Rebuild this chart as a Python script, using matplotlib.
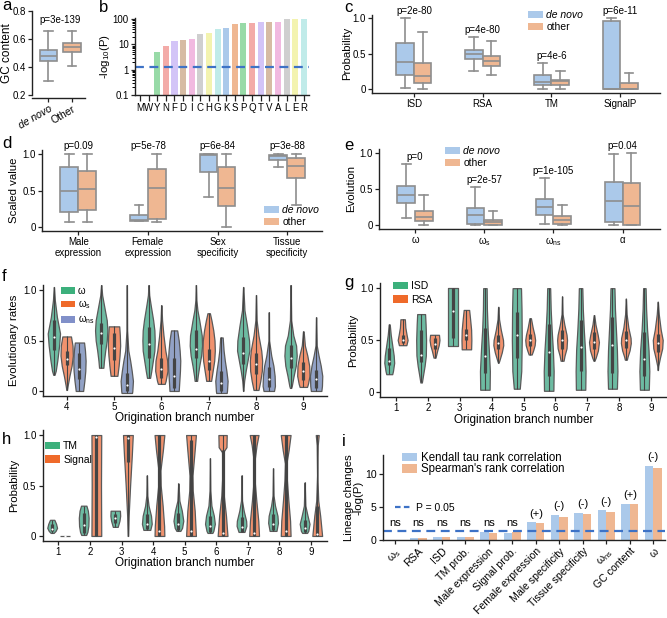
import colorsys
import numpy as np
import matplotlib
matplotlib.use('Agg')
import matplotlib.pyplot as plt
import matplotlib.colors as mcolors
from matplotlib.patches import Patch
from matplotlib.lines import Line2D

plt.rcParams['font.family'] = ['Liberation Sans', 'DejaVu Sans']
plt.rcParams['mathtext.default'] = 'regular'

# ---------------- data ----------------
# box stats are (whislo, q1, med, q3, whishi)
a_groups = ['de novo', 'Other']
a_gc = [(0.30, 0.44, 0.48, 0.525, 0.66), (0.41, 0.51, 0.54, 0.57, 0.66)]
a_p = 'p=3e-139'

b_aa = list('MWYNFDICHGKSPQTVALER')
b_logp = [0, 0, 5, 9, 14, 15, 16, 26, 29, 42, 46, 65, 68, 68, 78, 80, 80, 98, 98, 98]
b_cut = 1.3

c_feat = ['ISD', 'RSA', 'TM', 'SignalP']
c_denovo = [(0.01, 0.19, 0.38, 0.65, 1.0), (0.26, 0.42, 0.49, 0.55, 0.73),
            (0.0, 0.05, 0.10, 0.19, 0.36), (0.0, 0.0, 0.0, 0.96, 1.0)]
c_other = [(0.0, 0.08, 0.18, 0.37, 0.80), (0.20, 0.33, 0.40, 0.47, 0.67),
           (0.0, 0.05, 0.11, 0.13, 0.25), (0.0, 0.0, 0.0, 0.09, 0.23)]
c_p = ['p=2e-80', 'p=4e-80', 'p=4e-6', 'p=6e-11']

d_feat = ['Male\nexpression', 'Female\nexpression', 'Sex\nspecificity', 'Tissue\nspecificity']
d_denovo = [(0.07, 0.20, 0.50, 0.82, 1.0), (0.08, 0.08, 0.09, 0.16, 0.30),
            (0.41, 0.75, 0.99, 1.0, 1.0), (0.82, 0.92, 0.98, 0.99, 1.0)]
d_other = [(0.07, 0.24, 0.52, 0.77, 1.0), (0.07, 0.115, 0.53, 0.80, 1.0),
           (0.0, 0.29, 0.54, 0.82, 1.0), (0.30, 0.67, 0.84, 0.94, 1.0)]
d_p = ['p=0.09', 'p=5e-78', 'p=6e-84', 'p=3e-88']

e_feat = ['ω', 'ω$_{s}$', 'ω$_{ns}$', 'α']
e_denovo = [(0.10, 0.31, 0.42, 0.54, 0.85), (0.0, 0.01, 0.14, 0.23, 0.53),
            (0.01, 0.14, 0.25, 0.36, 0.65), (0.0, 0.04, 0.33, 0.60, 0.99)]
e_other = [(0.0, 0.06, 0.11, 0.20, 0.42), (0.0, 0.0, 0.04, 0.07, 0.19),
           (0.0, 0.02, 0.07, 0.13, 0.28), (0.0, 0.0, 0.26, 0.58, 1.0)]
e_p = ['p=0', 'p=2e-57', 'p=1e-105', 'p=0.04']

# violin shapes: list of (value, relative width) knots; boxes are (q1, median, q3)
f_branch = [4, 5, 6, 7, 8, 9]
f_omega = [
    [(1.03, 0.02), (0.9, 0.15), (0.73, 0.5), (0.57, 1.0), (0.45, 0.85), (0.3, 0.55), (0.2, 0.3), (0.16, 0.1)],
    [(1.05, 0.02), (0.95, 0.15), (0.85, 0.45), (0.7, 0.9), (0.6, 1.0), (0.5, 0.9), (0.4, 0.65), (0.3, 0.45), (0.23, 0.35)],
    [(1.05, 0.02), (0.95, 0.1), (0.85, 0.35), (0.7, 0.75), (0.6, 0.95), (0.5, 1.0), (0.4, 0.95), (0.3, 0.7), (0.2, 0.45), (0.13, 0.25)],
    [(1.05, 0.02), (0.9, 0.08), (0.8, 0.25), (0.7, 0.55), (0.55, 0.95), (0.45, 1.0), (0.35, 0.85), (0.25, 0.55), (0.15, 0.3), (0.1, 0.2)],
    [(1.03, 0.02), (0.8, 0.2), (0.65, 0.6), (0.5, 0.95), (0.4, 1.0), (0.3, 0.7), (0.2, 0.4), (0.1, 0.15), (0.0, 0.02)],
    [(1.05, 0.02), (0.7, 0.1), (0.55, 0.45), (0.45, 0.9), (0.35, 1.0), (0.25, 0.85), (0.15, 0.5), (0.05, 0.2), (0.03, 0.1)],
]
f_omega_box = [(0.41, 0.53, 0.70), (0.47, 0.57, 0.67), (0.33, 0.47, 0.63),
               (0.33, 0.42, 0.60), (0.27, 0.38, 0.53), (0.23, 0.33, 0.46)]
f_omega_s = [
    [(0.54, 0.7), (0.45, 0.95), (0.35, 1.0), (0.25, 0.8), (0.15, 0.45), (0.05, 0.15), (0.01, 0.05)],
    [(0.64, 0.85), (0.55, 0.95), (0.45, 1.0), (0.35, 0.9), (0.25, 0.75), (0.15, 0.55)],
    [(0.85, 0.02), (0.7, 0.12), (0.55, 0.35), (0.4, 0.65), (0.3, 0.95), (0.2, 1.0), (0.1, 0.7), (0.07, 0.55)],
    [(0.77, 0.2), (0.7, 0.45), (0.6, 0.75), (0.5, 0.95), (0.4, 1.0), (0.3, 0.9), (0.2, 0.65), (0.1, 0.4)],
    [(0.95, 0.02), (0.7, 0.1), (0.55, 0.4), (0.4, 0.85), (0.3, 1.0), (0.2, 0.95), (0.1, 0.7), (0.01, 0.4)],
    [(0.59, 0.05), (0.45, 0.25), (0.35, 0.65), (0.25, 0.95), (0.15, 1.0), (0.07, 0.75), (0.04, 0.6)],
]
f_omega_s_box = [(0.26, 0.32, 0.40), (0.31, 0.43, 0.57), (0.13, 0.22, 0.33),
                 (0.21, 0.30, 0.42), (0.17, 0.27, 0.38), (0.11, 0.20, 0.29)]
f_omega_ns = [
    [(0.48, 0.75), (0.4, 0.9), (0.3, 1.0), (0.2, 0.95), (0.1, 0.8), (0.0, 0.6)],
    [(1.05, 0.02), (0.6, 0.05), (0.4, 0.25), (0.3, 0.55), (0.2, 0.8), (0.1, 1.0), (0.0, 0.9), (-0.02, 0.85)],
    [(0.6, 0.5), (0.5, 0.75), (0.4, 0.9), (0.3, 1.0), (0.2, 0.95), (0.1, 0.85), (0.0, 0.75)],
    [(0.53, 0.2), (0.4, 0.35), (0.3, 0.55), (0.2, 0.8), (0.1, 1.0), (0.0, 0.9), (-0.02, 0.85)],
    [(0.78, 0.02), (0.5, 0.05), (0.35, 0.4), (0.25, 0.75), (0.15, 0.95), (0.05, 1.0), (0.0, 0.85)],
    [(0.73, 0.02), (0.45, 0.1), (0.35, 0.4), (0.25, 0.75), (0.15, 1.0), (0.05, 0.95), (0.0, 0.85)],
]
f_omega_ns_box = [(0.12, 0.22, 0.38), (0.0, 0.06, 0.18), (0.03, 0.15, 0.33),
                  (0.0, 0.08, 0.20), (0.04, 0.12, 0.24), (0.03, 0.12, 0.21)]

g_branch = [1, 2, 3, 4, 5, 6, 7, 8, 9]
g_isd = [
    [(0.65, 0.1), (0.55, 0.3), (0.45, 0.6), (0.35, 0.9), (0.28, 1.0), (0.2, 0.75), (0.17, 0.6)],
    [(0.75, 0.8), (0.65, 0.9), (0.5, 1.0), (0.35, 0.95), (0.25, 0.7), (0.15, 0.35), (0.09, 0.15)],
    [(1.0, 1.0), (0.44, 1.0)],
    [(1.0, 0.35), (0.8, 0.4), (0.6, 0.55), (0.4, 0.8), (0.2, 1.0), (0.02, 0.95)],
    [(1.0, 0.85), (0.8, 0.95), (0.5, 1.0), (0.2, 0.9), (0.03, 0.6)],
    [(1.0, 0.3), (0.8, 0.4), (0.6, 0.6), (0.4, 0.85), (0.2, 1.0), (0.01, 0.95)],
    [(1.0, 0.35), (0.8, 0.45), (0.6, 0.65), (0.4, 0.9), (0.2, 1.0), (0.02, 0.95)],
    [(1.0, 0.4), (0.8, 0.5), (0.6, 0.7), (0.4, 0.9), (0.2, 1.0), (0.03, 0.9)],
    [(1.0, 0.25), (0.8, 0.35), (0.6, 0.55), (0.4, 0.85), (0.2, 1.0), (0.02, 0.9)],
]
g_isd_box = [(0.26, 0.30, 0.42), (0.29, 0.36, 0.60), (0.52, 0.78, 1.0), (0.18, 0.35, 0.62),
             (0.33, 0.55, 0.77), (0.15, 0.38, 0.65), (0.20, 0.43, 0.69), (0.18, 0.45, 0.72),
             (0.15, 0.32, 0.58)]
g_rsa = [
    [(0.7, 0.45), (0.62, 0.55), (0.55, 0.8), (0.5, 1.0), (0.45, 0.75)],
    [(0.55, 0.9), (0.5, 1.0), (0.45, 0.85), (0.4, 0.55), (0.33, 0.2)],
    [(0.79, 0.55), (0.7, 0.75), (0.6, 0.95), (0.5, 1.0), (0.41, 0.95)],
    [(0.82, 0.03), (0.7, 0.15), (0.6, 0.5), (0.5, 0.95), (0.45, 1.0), (0.38, 0.7), (0.3, 0.2), (0.28, 0.05)],
    [(0.71, 0.15), (0.62, 0.5), (0.55, 0.85), (0.5, 1.0), (0.45, 0.9), (0.4, 0.6), (0.36, 0.3)],
    [(0.92, 0.02), (0.75, 0.1), (0.65, 0.45), (0.55, 0.9), (0.5, 1.0), (0.42, 0.9), (0.35, 0.5), (0.3, 0.3)],
    [(0.74, 0.05), (0.65, 0.3), (0.55, 0.75), (0.48, 1.0), (0.4, 0.8), (0.33, 0.35), (0.3, 0.1)],
    [(0.9, 0.02), (0.75, 0.15), (0.62, 0.5), (0.52, 0.95), (0.47, 1.0), (0.4, 0.75), (0.34, 0.35), (0.31, 0.2)],
    [(0.87, 0.02), (0.75, 0.2), (0.6, 0.6), (0.5, 1.0), (0.42, 0.9), (0.33, 0.45), (0.25, 0.1), (0.21, 0.03)],
]
g_rsa_box = [(0.47, 0.50, 0.55), (0.41, 0.46, 0.52), (0.50, 0.55, 0.61), (0.41, 0.47, 0.55),
             (0.44, 0.50, 0.56), (0.41, 0.50, 0.60), (0.41, 0.48, 0.58), (0.42, 0.50, 0.59),
             (0.38, 0.47, 0.56)]

h_branch = [1, 2, 3, 4, 5, 6, 7, 8, 9]
h_tm = [
    [(0.16, 0.45), (0.12, 0.8), (0.08, 1.0), (0.05, 0.7), (0.03, 0.3)],
    [(0.3, 0.55), (0.25, 0.85), (0.18, 1.0), (0.1, 0.95), (0.04, 0.75), (0.01, 0.5)],
    [(0.25, 0.95), (0.2, 1.0), (0.15, 0.85), (0.09, 0.5)],
    [(0.6, 0.03), (0.4, 0.1), (0.3, 0.35), (0.2, 0.85), (0.12, 1.0), (0.06, 0.7)],
    [(0.52, 0.03), (0.35, 0.2), (0.25, 0.7), (0.15, 1.0), (0.08, 0.75), (0.05, 0.4)],
    [(0.77, 0.02), (0.45, 0.08), (0.3, 0.3), (0.2, 0.8), (0.12, 1.0), (0.05, 0.7), (0.03, 0.5)],
    [(0.6, 0.02), (0.35, 0.1), (0.25, 0.45), (0.15, 0.95), (0.1, 1.0), (0.04, 0.6)],
    [(0.67, 0.02), (0.4, 0.1), (0.3, 0.4), (0.2, 0.9), (0.13, 1.0), (0.05, 0.7)],
    [(0.53, 0.02), (0.3, 0.15), (0.2, 0.6), (0.12, 1.0), (0.05, 0.75), (0.03, 0.5)],
]
h_tm_box = [(0.05, 0.07, 0.12), (0.03, 0.11, 0.23), (0.13, 0.18, 0.22), (0.07, 0.12, 0.22),
            (0.06, 0.12, 0.23), (0.04, 0.10, 0.20), (0.04, 0.09, 0.19), (0.06, 0.12, 0.22),
            (0.04, 0.08, 0.16)]
h_signal = [
    [(0.004, 1.0), (-0.004, 1.0)],
    [(1.0, 1.0), (0.5, 0.95), (0.0, 1.0)],
    [(1.0, 1.0), (0.8, 0.8), (0.5, 0.45), (0.2, 0.15), (0.0, 0.05)],
    [(1.0, 1.0), (0.85, 0.7), (0.65, 0.2), (0.5, 0.25), (0.3, 0.65), (0.1, 0.95), (0.0, 1.0)],
    [(1.0, 1.0), (0.85, 0.75), (0.6, 0.3), (0.45, 0.35), (0.25, 0.75), (0.0, 1.0)],
    [(1.0, 0.85), (0.88, 0.8), (0.83, 0.1), (0.6, 0.05), (0.4, 0.25), (0.2, 0.7), (0.0, 1.0)],
    [(1.0, 0.9), (0.9, 0.5), (0.75, 0.1), (0.55, 0.1), (0.35, 0.45), (0.15, 0.85), (0.0, 1.0)],
    [(1.0, 1.0), (0.85, 0.6), (0.72, 0.15), (0.55, 0.25), (0.35, 0.55), (0.15, 0.9), (0.0, 1.0)],
    [(1.0, 0.3), (0.9, 0.1), (0.6, 0.03), (0.35, 0.2), (0.2, 0.6), (0.0, 1.0)],
]
h_signal_box = [(0.0, 0.0, 0.0), (0.0, 0.98, 1.0), (0.73, 0.97, 1.0), (0.0, 0.05, 1.0),
                (0.0, 0.05, 0.95), (0.0, 0.03, 0.85), (0.0, 0.03, 1.0), (0.0, 0.05, 1.0),
                (0.0, 0.02, 0.30)]

i_feat = ['ω$_{s}$', 'RSA', 'ISD', 'TM prob.', 'Male expression', 'Signal prob.',
          'Female expression', 'Male specificity', 'Tissue specificity', 'ω$_{ns}$',
          'GC content', 'ω']
i_kendall = [0.02, 0.25, 0.46, 0.50, 1.20, 1.10, 2.70, 3.80, 4.15, 4.50, 5.50, 11.3]
i_spearman = [0.02, 0.25, 0.46, 0.52, 1.12, 1.17, 2.65, 3.50, 4.00, 4.30, 5.40, 11.0]
i_sign = ['ns', 'ns', 'ns', 'ns', 'ns', 'ns', '(+)', '(-)', '(-)', '(-)', '(+)', '(-)']
i_cut = 1.3


# ---------------- helpers ----------------
def desat(c, prop=0.75):
    r, g, b = mcolors.to_rgb(c)
    h, l, s = colorsys.rgb_to_hls(r, g, b)
    return colorsys.hls_to_rgb(h, l, s * prop)


pastel = ['#a1c9f4', '#ffb482', '#8de5a1', '#ff9f9b', '#d0bbff',
          '#debb9b', '#fab0e4', '#cfcfcf', '#fffea3', '#b9f2f0']
pastel_d = [desat(c) for c in pastel]
BLUE, ORANGE = pastel_d[0], pastel_d[1]
EDGE = '#8e8e8e'
V_GREEN, V_ORANGE, V_BLUE = desat('#66c2a5', 0.85), desat('#fc8d62', 0.85), desat('#8da0cb', 0.85)
L_GREEN, L_ORANGE, L_BLUE = '#3cb07c', '#ef6a2a', '#8190c9'
DARK = '#222222'

W, H = 667, 618
fig = plt.figure(figsize=(W / 100, H / 100), dpi=100)


def px_axes(l, t, r, b):
    ax = fig.add_axes([l / W, 1 - b / H, (r - l) / W, (b - t) / H])
    for s in ['top', 'right']:
        ax.spines[s].set_visible(False)
    for s in ['left', 'bottom']:
        ax.spines[s].set_linewidth(1.0)
        ax.spines[s].set_color(DARK)
    ax.tick_params(length=3, width=0.9, labelsize=7, color=DARK, pad=1.5)
    ax.patch.set_alpha(0)
    return ax


def ylab(ax, text, right_px, size=8.2, **kw):
    ax.set_ylabel(text, fontsize=size, **kw)
    pos = ax.get_position()
    ax.yaxis.set_label_coords((right_px / W - pos.x0) / pos.width, 0.5)


def xlab(ax, text, top_px, size=8.5):
    ax.set_xlabel(text, fontsize=size)
    pos = ax.get_position()
    ax.xaxis.set_label_coords(0.5, ((1 - top_px / H) - pos.y0) / pos.height)


def letter(s, x, y):
    fig.text(x / W, 1 - y / H, s, fontsize=12, ha='left', va='center')


def boxes(ax, data, positions, width, color):
    stats = [dict(whislo=d[0], q1=d[1], med=d[2], q3=d[3], whishi=d[4], fliers=[]) for d in data]
    bp = ax.bxp(stats, positions=positions, widths=width, capwidths=width / 2,
                patch_artist=True, manage_ticks=False,
                boxprops=dict(edgecolor=EDGE, linewidth=1.2),
                medianprops=dict(color=EDGE, linewidth=1.2),
                whiskerprops=dict(color=EDGE, linewidth=1.2),
                capprops=dict(color=EDGE, linewidth=1.2))
    for p in bp['boxes']:
        p.set_facecolor(color)


def violins(ax, shapes, quarts, positions, width, color):
    for shape, q, pos in zip(shapes, quarts, positions):
        ys = np.array([p[0] for p in shape])
        ws = np.array([p[1] for p in shape])
        o = np.argsort(ys)
        st = dict(coords=ys[o], vals=ws[o], mean=q[1], median=q[1], min=ys.min(), max=ys.max())
        parts = ax.violin([st], positions=[pos], widths=width, showmeans=False,
                          showextrema=False, showmedians=False)
        for body in parts['bodies']:
            body.set_facecolor(color)
            body.set_edgecolor('#5a5a5a')
            body.set_linewidth(0.9)
            body.set_alpha(1)
        ax.vlines(pos, ys.min(), ys.max(), color='#444444', lw=0.8, zorder=3)
        ax.vlines(pos, q[0], q[2], color='#444444', lw=2.3, zorder=3)
        ax.scatter([pos], [q[1]], s=2.5, color='white', zorder=4, linewidths=0)


def patch_legend(ax, colors, labels, x_px, y_px, size=7.5, italic_first=False, **kw):
    handles = [Patch(facecolor=c, edgecolor='none') for c in colors]
    leg = ax.legend(handles, labels, loc='upper left',
                    bbox_to_anchor=(x_px / W, 1 - y_px / H), bbox_transform=fig.transFigure,
                    frameon=False, fontsize=size, borderpad=0, borderaxespad=0,
                    handlelength=kw.get('hl', 1.4), handleheight=kw.get('hh', 0.7),
                    handletextpad=kw.get('htp', 0.35), labelspacing=kw.get('ls', 0.2))
    if italic_first:
        leg.get_texts()[0].set_style('italic')
    return leg


# ---------------- panel a ----------------
ax = px_axes(32, 11, 85, 95)
ax.spines['bottom'].set_position(('outward', 2))
boxes(ax, [a_gc[0]], [0], 0.75, BLUE)
boxes(ax, [a_gc[1]], [1], 0.75, ORANGE)
ax.set_xlim(-0.7, 1.55)
ax.set_ylim(0.2, 0.8)
ax.set_yticks([0.2, 0.4, 0.6, 0.8])
ax.set_xticks([0, 1])
ax.set_xticklabels(a_groups, rotation=30, ha='right', rotation_mode='anchor', fontsize=7.5)
ax.get_xticklabels()[0].set_style('italic')
ax.text(0.5, 0.70, a_p, ha='center', va='bottom', fontsize=7)
ylab(ax, 'GC content', 13, size=8.5)
letter('a', 2, 6)

# ---------------- panel b ----------------
ax = px_axes(135, 18, 309, 95)
xb = np.arange(len(b_aa))
ax.bar(xb, b_logp, width=0.7, color=[pastel_d[i % 10] for i in range(len(b_aa))])
ax.set_yscale('log')
ax.set_ylim(0.1, 110)
ax.set_xlim(-0.58, 19.6)
ax.axhline(b_cut, color='#3d72c6', ls=(0, (4, 2.5)), lw=1.6)
ax.set_xticks(xb)
ax.set_xticklabels(b_aa, fontsize=7)
ax.set_yticks([0.1, 1, 10, 100])
ax.set_yticklabels(['0.1', '1', '10', '100'])
ax.tick_params(axis='x', length=4)
ax.tick_params(axis='y', which='minor', length=2, width=0.7)
ylab(ax, '-log$_{10}$(P)', 112)
letter('b', 99, 7)

# ---------------- panel c ----------------
ax = px_axes(372, 14.5, 660, 92.5)
xc = np.arange(len(c_feat))
boxes(ax, c_denovo, xc - 0.128, 0.255, BLUE)
boxes(ax, c_other, xc + 0.128, 0.255, ORANGE)
for i, t in enumerate(c_p):
    ax.text(xc[i], max(c_denovo[i][4], c_other[i][4]) + 0.03, t, ha='center', va='bottom', fontsize=7)
ax.set_xlim(-0.61, 3.58)
ax.set_ylim(-0.05, 1.05)
ax.set_yticks([0, 0.5, 1.0])
ax.set_yticklabels(['0', '0.5', '1.0'])
ax.set_xticks(xc)
ax.set_xticklabels(c_feat)
patch_legend(ax, [BLUE, ORANGE], ['de novo', 'other'], 528, 10, italic_first=True)
ylab(ax, 'Probability', 352)
letter('c', 344, 8)

# ---------------- panel d ----------------
ax = px_axes(42, 150.4, 322, 230.7)
xd = np.arange(len(d_feat))
boxes(ax, d_denovo, xd - 0.128, 0.255, BLUE)
boxes(ax, d_other, xd + 0.128, 0.255, ORANGE)
for i, t in enumerate(d_p):
    ax.text(xd[i], max(d_denovo[i][4], d_other[i][4]) + 0.04, t, ha='center', va='bottom', fontsize=7)
ax.set_xlim(-0.52, 3.5)
ax.set_ylim(-0.05, 1.05)
ax.set_yticks([0, 0.5, 1.0])
ax.set_yticklabels(['0', '0.5', '1.0'])
ax.set_xticks(xd)
ax.set_xticklabels(d_feat, linespacing=1.1)
patch_legend(ax, [BLUE, ORANGE], ['de novo', 'other'], 264, 205, italic_first=True)
ylab(ax, 'Scaled value', 19)
letter('d', 2, 143)

# ---------------- panel e ----------------
ax = px_axes(379, 149.4, 660, 228.6)
xe = np.arange(len(e_feat))
boxes(ax, e_denovo, xe - 0.128, 0.255, BLUE)
boxes(ax, e_other, xe + 0.128, 0.255, ORANGE)
for i, t in enumerate(e_p):
    ax.text(xe[i], max(e_denovo[i][4], e_other[i][4]) + 0.03, t, ha='center', va='bottom', fontsize=7)
ax.set_xlim(-0.52, 3.54)
ax.set_ylim(-0.05, 1.05)
ax.set_yticks([0, 0.5, 1.0])
ax.set_yticklabels(['0', '0.5', '1.0'])
ax.set_xticks(xe)
ax.set_xticklabels(e_feat)
patch_legend(ax, [BLUE, ORANGE], ['de novo', 'other'], 445, 146, italic_first=True)
ylab(ax, 'Evolution', 356)
letter('e', 344, 145)

# ---------------- panel f ----------------
ax = px_axes(43, 285, 327, 396)
xf = np.arange(len(f_branch))
violins(ax, f_omega, f_omega_box, xf - 0.27, 0.26, V_GREEN)
violins(ax, f_omega_s, f_omega_s_box, xf, 0.26, V_ORANGE)
violins(ax, f_omega_ns, f_omega_ns_box, xf + 0.27, 0.26, V_BLUE)
ax.set_xlim(-0.5, 5.5)
ax.set_ylim(-0.05, 1.05)
ax.set_yticks([0, 0.5, 1.0])
ax.set_yticklabels(['0', '0.5', '1.0'])
ax.set_xticks(xf)
ax.set_xticklabels([str(b) for b in f_branch])
patch_legend(ax, [L_GREEN, L_ORANGE, L_BLUE], ['ω', 'ω$_{s}$', 'ω$_{ns}$'], 61, 286, size=7, ls=0.25)
ylab(ax, 'Evolutionary rates', 19)
xlab(ax, 'Origination branch number', 412)
letter('f', 2, 277)

# ---------------- panel g ----------------
ax = px_axes(380, 283, 667, 397)
xg = np.arange(len(g_branch))
violins(ax, g_isd, g_isd_box, xg - 0.21, 0.31, V_GREEN)
violins(ax, g_rsa, g_rsa_box, xg + 0.21, 0.31, V_ORANGE)
ax.set_xlim(-0.5, 8.5)
ax.set_ylim(-0.05, 1.05)
ax.set_yticks([0, 0.5, 1.0])
ax.set_yticklabels(['0', '0.5', '1.0'])
ax.set_xticks(xg)
ax.set_xticklabels([str(b) for b in g_branch])
patch_legend(ax, [L_GREEN, L_ORANGE], ['ISD', 'RSA'], 393, 281, size=7.5, ls=0.35)
ylab(ax, 'Probability', 358)
xlab(ax, 'Origination branch number', 414)
letter('g', 344, 282)

# ---------------- panel h ----------------
ax = px_axes(42.7, 430, 326.7, 541)
xh = np.arange(len(h_branch))
violins(ax, h_tm, h_tm_box, xh - 0.2, 0.31, V_GREEN)
violins(ax, h_signal, h_signal_box, xh + 0.2, 0.31, V_ORANGE)
ax.set_xlim(-0.5, 8.5)
ax.set_ylim(-0.05, 1.05)
ax.set_yticks([0, 0.5, 1.0])
ax.set_yticklabels(['0', '0.5', '1.0'])
ax.set_xticks(xh)
ax.set_xticklabels([str(b) for b in h_branch])
patch_legend(ax, [L_GREEN, L_ORANGE], ['TM', 'Signal'], 45, 441, size=7.5, ls=0.35)
ylab(ax, 'Probability', 19)
xlab(ax, 'Origination branch number', 557)
letter('h', 2, 440)

# ---------------- panel i ----------------
ax = px_axes(383, 455, 665, 540)
xi = np.arange(len(i_feat))
ax.bar(xi - 0.18, i_kendall, width=0.36, color=BLUE)
ax.bar(xi + 0.18, i_spearman, width=0.36, color=ORANGE)
ax.axhline(i_cut, color='#3d72c6', ls=(0, (4, 2.5)), lw=1.6)
for k, s in enumerate(i_sign):
    top = max(i_kendall[k], i_spearman[k], i_cut)
    ax.text(xi[k], top + 0.55, s, ha='center', va='bottom', fontsize=8)
ax.set_xlim(-0.5, 11.5)
ax.set_ylim(0, 12.9)
ax.set_yticks([0, 5, 10])
ax.set_xticks(xi)
ax.set_xticklabels(i_feat, rotation=45, ha='right', rotation_mode='anchor', fontsize=7.6)
ax.tick_params(labelsize=7.6)
leg1 = patch_legend(ax, [BLUE, ORANGE], ['Kendall tau rank correlation', "Spearman's rank correlation"],
                    402, 452, size=8.3, ls=-0.05, hl=1.3, hh=0.8)
ax.add_artist(leg1)
ax.legend([Line2D([0], [0], color='#3d72c6', ls=(0, (2.5, 1.5)), lw=1.6)], ['P = 0.05'],
          loc='upper left', bbox_to_anchor=(395 / W, 1 - 503 / H), bbox_transform=fig.transFigure,
          frameon=False, fontsize=7.5, borderpad=0, borderaxespad=0, handlelength=1.6,
          handletextpad=0.4)
ylab(ax, 'Lineage changes\n-log(P)', 364, linespacing=1.0)
letter('i', 342, 442)

fig.savefig('out.png', dpi=100)
